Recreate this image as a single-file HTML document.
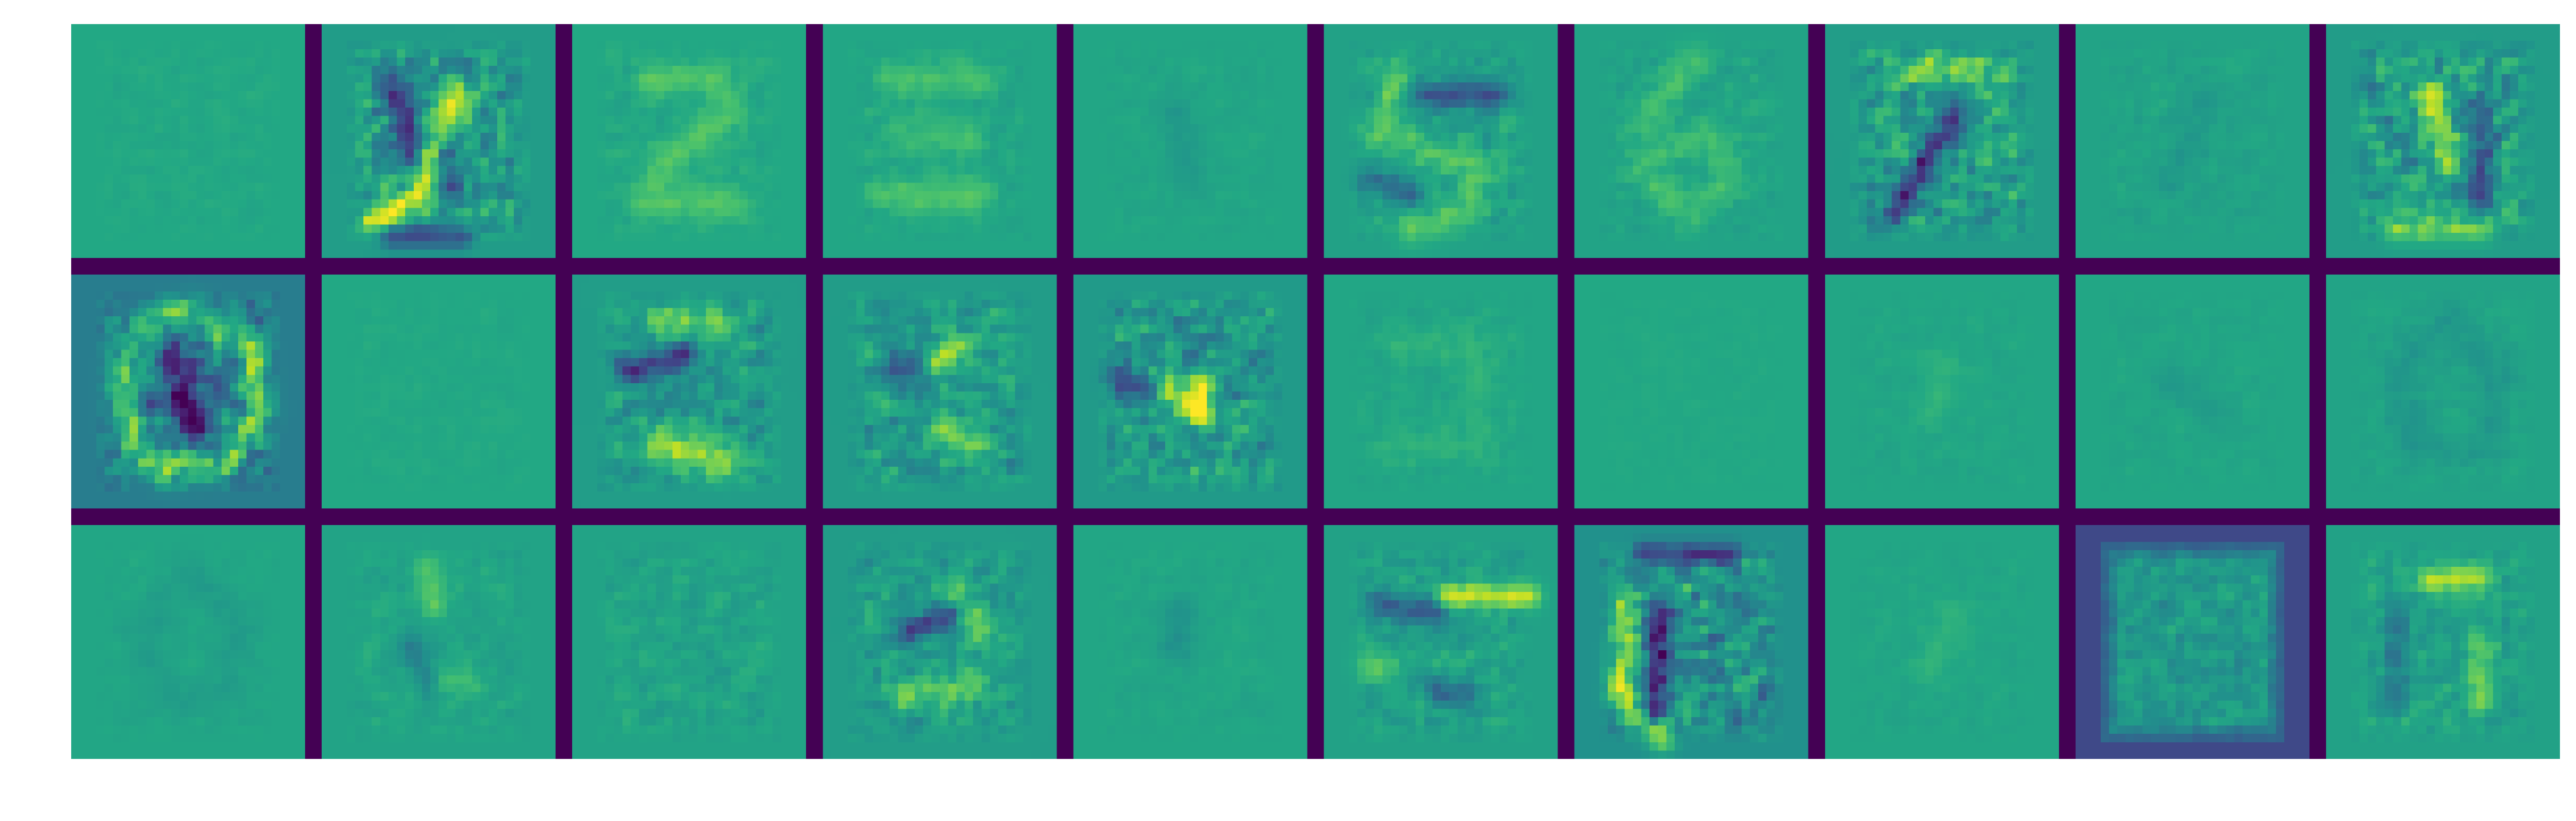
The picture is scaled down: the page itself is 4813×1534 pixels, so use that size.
<!DOCTYPE html>
<html><head><meta charset="utf-8">
<style>
html,body{margin:0;padding:0;background:#fff;}
body{width:4813px;height:1534px;position:relative;overflow:hidden;}
#grid{position:absolute;left:133px;top:45px;width:4650px;height:1373px;image-rendering:pixelated;image-rendering:crisp-edges;}
</style></head>
<body>
<canvas id="grid" width="298" height="88"></canvas>
<script>
// tile base values (viridis scale 0..1), row-major 3 rows x 10 cols
const tileBase = [
 0.60,0.55,0.60,0.59,0.59,0.57,0.58,0.55,0.58,0.55,
 0.42,0.60,0.55,0.55,0.54,0.59,0.60,0.59,0.59,0.58,
 0.59,0.58,0.58,0.55,0.59,0.57,0.50,0.59,0.20,0.57
];
// texture strength per tile
const tileNoise = [
 0.02,0.15,0.04,0.04,0.02,0.07,0.05,0.15,0.03,0.15,
 0.18,0.015,0.11,0.11,0.15,0.03,0.01,0.02,0.02,0.03,
 0.02,0.04,0.05,0.09,0.02,0.07,0.17,0.02,0.08,0.07
];
// strokes: [tileIndex, amplitude, sigma, [x0,y0,x1,y1,...]]
const strokes = [
 [1,0.42,1.0,[16,8,14,12,11,20,6,23]],
 [1,-0.35,1.2,[8,6,9,10,10,15]],
 [1,-0.30,1.0,[14,14,15,19]],
 [1,-0.30,1.0,[8,25,16,25]],
 [2,0.12,1.4,[9,6,17,6,18,10,11,16,8,21,19,21]],
 [3,0.12,1.4,[8,6,18,6]],[3,0.10,1.4,[9,13,17,13]],[3,0.13,1.4,[7,20,18,20]],
 [4,-0.06,1.5,[12,10,13,18]],
 [5,-0.30,1.2,[12,8,20,8]],
 [5,0.15,1.4,[8,6,6,12,12,15,18,17,17,22,10,24]],
 [5,-0.20,1.2,[5,18,10,20]],
 [6,0.10,1.5,[14,4,9,10,8,18,13,22,18,18,15,13,9,15]],
 [7,-0.40,1.1,[15,10,12,15,8,22]],
 [7,0.20,1.3,[8,5,20,5]],
 [8,-0.05,1.5,[15,10,11,18]],
 [9,0.35,1.1,[12,8,14,16]],[9,-0.30,1.1,[18,10,18,20]],[9,0.20,1.2,[8,24,18,24]],
 [10,0.30,1.3,[14,4,21,8,22,16,18,22,11,23,6,18,6,10,10,5,14,4]],
 [10,-0.35,1.4,[12,10,14,17]],
 [12,-0.35,1.2,[6,11,13,9]],[12,0.30,1.4,[10,20,18,22]],[12,0.20,1.2,[10,5,17,5]],
 [13,0.40,1.0,[13,10,16,8]],[13,-0.25,1.2,[8,11,12,10]],[13,0.20,1.3,[14,18,18,20]],
 [14,0.35,1.2,[11,13,14,16]],[14,0.30,1.0,[15,12,15,16]],[14,-0.30,1.2,[5,12,8,14]],
 [15,0.05,1.5,[8,8,18,8,18,20,8,20]],
 [17,0.05,1.4,[14,10,12,16]],
 [18,-0.04,1.6,[10,12,16,16]],
 [19,-0.05,1.6,[14,5,20,12,18,20,10,20,8,12,14,5]],
 [20,-0.04,1.6,[14,5,20,12,18,20,10,20,8,12,14,5]],
 [21,0.15,1.2,[12,5,13,9]],[21,-0.15,1.2,[10,14,12,18]],[21,0.12,1.2,[15,18,17,18]],
 [23,-0.35,1.1,[10,12,15,10]],[23,0.25,1.2,[15,8,18,12]],[23,0.20,1.3,[9,20,17,19]],
 [24,-0.08,1.5,[12,10,12,14]],
 [25,0.35,1.0,[14,8,24,8]],[25,-0.25,1.2,[6,9,13,10]],[25,-0.20,1.2,[10,18,16,20]],[25,0.15,1.3,[5,16,10,18]],
 [26,0.35,1.1,[6,8,5,20,10,25]],[26,-0.35,1.1,[10,10,9,22]],[26,-0.30,1.0,[8,3,18,3]],
 [27,0.05,1.4,[15,10,12,17]],
 [28,0.30,4.5,[14,14]],
 [29,0.30,1.1,[12,6,18,6]],[29,0.20,1.2,[18,14,18,20]],[29,-0.15,1.2,[8,10,8,20]]
];
const viridis = ["#440154","#482475","#414487","#355f8d","#2a788e","#21918c","#22a884","#44bf70","#7ad151","#bddf26","#fde725"];
function hex(c){return [parseInt(c.slice(1,3),16),parseInt(c.slice(3,5),16),parseInt(c.slice(5,7),16)];}
const vstops = viridis.map(hex);
function cmap(v){v=Math.max(0,Math.min(1,v));const t=v*10;const i=Math.min(9,Math.floor(t));const f=t-i;const a=vstops[i],b=vstops[i+1];return [a[0]+(b[0]-a[0])*f,a[1]+(b[1]-a[1])*f,a[2]+(b[2]-a[2])*f];}
function segDist(px,py,x0,y0,x1,y1){const dx=x1-x0,dy=y1-y0;const L=dx*dx+dy*dy;let t=L?((px-x0)*dx+(py-y0)*dy)/L:0;t=Math.max(0,Math.min(1,t));const qx=x0+t*dx-px,qy=y0+t*dy-py;return Math.sqrt(qx*qx+qy*qy);}
function hash(a,b){let h=(a*374761393+b*668265263)|0;h=(h^(h>>>13))*1274126177|0;h=h^(h>>>16);return ((h>>>0)%10000)/5000-1;}
function tex(t,x,y,r){return 0.5*hash(t*1000+x,y*7+r)+0.25*hash(t*1000+x+1,y*7+r)+0.25*hash(t*1000+x,y*7+r+7);}
const cv=document.getElementById('grid');const ctx=cv.getContext('2d');
const img=ctx.createImageData(298,88);
for(let k=0;k<298*88;k++){img.data[k*4]=0x44;img.data[k*4+1]=0x01;img.data[k*4+2]=0x54;img.data[k*4+3]=255;}
for(let t=0;t<30;t++){
  const r=Math.floor(t/10),c=t%10;const ox=c*30,oy=r*30;
  const my=strokes.filter(s=>s[0]===t);
  for(let y=0;y<28;y++)for(let x=0;x<28;x++){
    let v=tileBase[t];
    const inX=Math.min(x-3,24-x),inY=Math.min(y-2,25-y);
    const mask=Math.max(0,Math.min(1,(Math.min(inX,inY)+1)/3));
    if(t===28){v=0.22+0.32*mask;}
    v+=tileNoise[t]*mask*tex(t,x,y,r)*1.4;
    for(const s of my){const p=s[3];let d=1e9;
      if(p.length===2)d=Math.hypot(x-p[0],y-p[1]);
      else for(let i=0;i+3<p.length;i+=2)d=Math.min(d,segDist(x,y,p[i],p[i+1],p[i+2],p[i+3]));
      v+=s[1]*Math.exp(-d*d/(2*s[2]*s[2]))*(t===28?0:1);}
    const col=cmap(v);const idx=((oy+y)*298+(ox+x))*4;
    img.data[idx]=col[0];img.data[idx+1]=col[1];img.data[idx+2]=col[2];
  }
}
ctx.putImageData(img,0,0);
</script>
</body></html>
